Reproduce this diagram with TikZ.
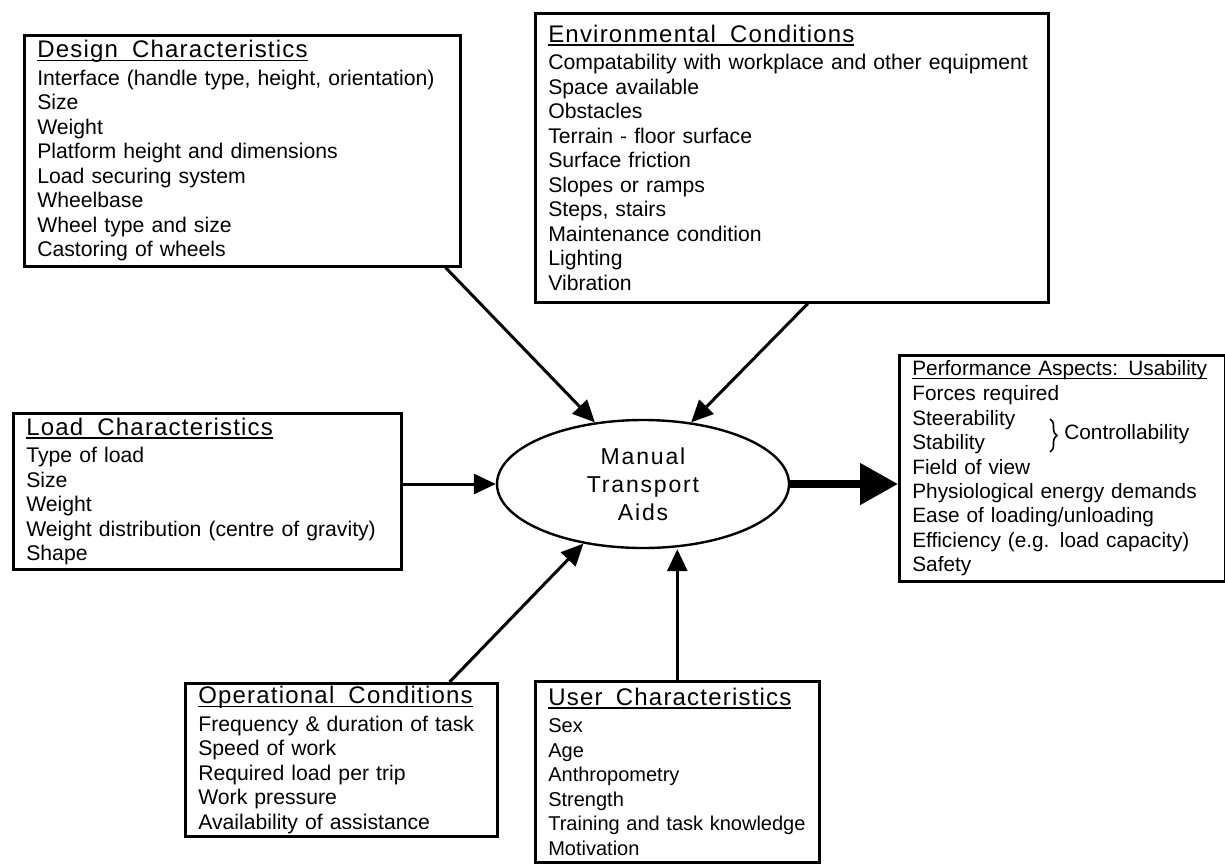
\documentclass[tikz,border=0pt]{standalone}
\usepackage{fontspec}
\setmainfont{Liberation Sans}
\newfontfamily\headfont[LetterSpace=5]{Liberation Sans}
\newfontfamily\hubfont[LetterSpace=8]{Liberation Sans}
\usetikzlibrary{shapes.geometric,arrows.meta,decorations.pathreplacing}
\newcommand{\boxtitle}[1]{{\setbox0\hbox{#1}\rlap{\rule[-1.8pt]{\wd0}{0.8pt}}\box0}}
\newcommand{\bighead}[1]{\boxtitle{\headfont\fontsize{12}{14}\selectfont #1}}
\tikzset{
  factorbox/.style={draw,line width=1.3pt,rectangle,anchor=north west,align=left,
    inner xsep=6.5pt,inner ysep=0pt,font=\fontsize{10.6}{12.25}\selectfont},
  hub/.style={ellipse,draw,line width=1.2pt,inner sep=0pt,minimum width=146pt,
    minimum height=64pt,align=center,font=\hubfont\fontsize{11.5}{14}\selectfont},
  feed/.style={line width=1.5pt,-{Triangle[length=11pt,width=10pt]}},
  outcome/.style={line width=4pt,-{Triangle[length=19pt,width=20pt]}},
  bracemark/.style={line width=0.8pt,decorate,decoration={brace,amplitude=3.5pt}}
}
\begin{document}
\begin{tikzpicture}[x=0.5pt,y=-0.5pt]
  \useasboundingbox (0,0) rectangle (1225,863);
  \node[factorbox,text width=205pt,minimum height=115.5pt] (design) at (23,34)
    {\bighead{Design\ \ Characteristics}\\[1.5pt]
     Interface (handle type, height, orientation)\\ Size\\ Weight\\
     Platform height and dimensions\\ Load securing system\\ Wheelbase\\
     Wheel type and size\\ Castoring of wheels};
  \node[factorbox,text width=243.5pt,minimum height=144.5pt] (env) at (534,12)
    {\bighead{Environmental\ \ Conditions}\\[1.5pt]
     Compatability with workplace and other equipment\\ Space available\\
     Obstacles\\ Terrain - floor surface\\ Surface friction\\ Slopes or ramps\\
     Steps, stairs\\ Maintenance condition\\ Lighting\\ Vibration};
  \node[factorbox,text width=181pt,minimum height=78pt] (load) at (12,412)
    {\bighead{Load\ \ Characteristics}\\[1.5pt]
     Type of load\\ Size\\ Weight\\ Weight distribution (centre of gravity)\\ Shape};
  \node[factorbox,text width=143pt,minimum height=76.5pt] (op) at (184,682)
    {\bighead{Operational\ \ Conditions}\\[1.5pt]
     Frequency \& duration of task\\ Speed of work\\ Required load per trip\\
     Work pressure\\ Availability of assistance};
  \node[factorbox,text width=129pt,minimum height=90.5pt,
    font=\fontsize{10}{12.25}\selectfont] (user) at (534,680)
    {\bighead{User\ \ Characteristics}\\[1.5pt]
     Sex\\ Age\\ Anthropometry\\ Strength\\ Training and task knowledge\\ Motivation};
  \node[factorbox,text width=150pt,minimum height=113pt,
    font=\fontsize{10.4}{12.2}\selectfont] (perf) at (898,354)
    {\boxtitle{Performance Aspects: Usability}\\[0.5pt]
     Forces required\\ Steerability\\ Stability\\ Field of view\\
     Physiological energy demands\\ Ease of loading/unloading\\
     Efficiency (e.g. load capacity)\\ Safety};
  \coordinate (brace top) at (1050,419);
  \coordinate (brace bot) at (1050,452);
  \draw[bracemark] (brace top) -- (brace bot);
  \node[anchor=west,inner sep=0pt,font=\fontsize{10.4}{12.2}\selectfont] (ctrl)
    at (1064,434) {Controllability};
  \node[hub] (hub) at (643,484) {Manual\\Transport\\Aids};
  \draw[feed] ([xshift=-8pt]design.south east) -- (hub.128);
  \draw[feed] ([xshift=8pt]env.south) -- (hub.52);
  \draw[feed] (load.east |- hub.west) -- (hub.west);
  \draw[feed] ([xshift=-24.5pt]op.north east) -- (hub.225);
  \draw[feed] (user.north) -- (user.north |- hub.south);
  \draw[outcome] (hub.east) -- (perf.west |- hub.east);
\end{tikzpicture}
\end{document}
